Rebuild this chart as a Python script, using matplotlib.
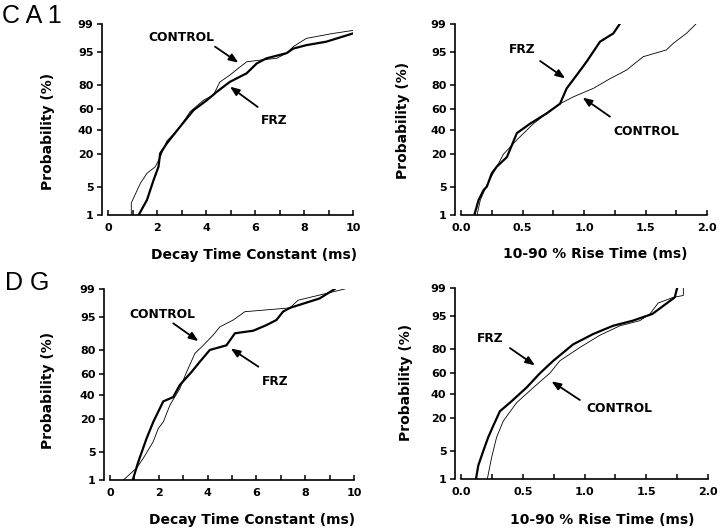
import numpy as np
import matplotlib
matplotlib.use('Agg')
import matplotlib.pyplot as plt
from statistics import NormalDist

plt.rcParams['font.family'] = ['DejaVu Sans']

# ---- data (x value, cumulative probability %) ----
# CA1, decay time constant (ms)
ca1_decay_ctrl_x = [0.95, 0.95, 1.32, 1.59, 1.93, 2.13, 2.40, 2.67, 2.94, 3.35, 3.89, 4.30, 4.57, 4.97, 5.39, 5.66, 6.20, 6.88, 7.29, 7.56, 8.10, 9.19, 10.0]
ca1_decay_ctrl_p = [1.0, 2.1, 6.0, 9.5, 12.5, 18.0, 30.0, 36.0, 43.0, 57.5, 68.0, 72.5, 82.0, 86.0, 90.0, 92.0, 92.6, 93.2, 94.7, 96.2, 97.6, 98.2, 98.5]
ca1_decay_frz_x = [1.25, 1.59, 1.86, 2.06, 2.13, 2.40, 2.94, 3.49, 4.03, 4.44, 4.97, 5.66, 6.07, 6.47, 7.29, 7.56, 8.10, 8.91, 10.0]
ca1_decay_frz_p = [1.0, 2.5, 7.0, 12.5, 20.5, 28.0, 43.0, 59.0, 68.0, 75.0, 82.0, 87.0, 91.4, 93.2, 94.7, 95.8, 96.5, 97.1, 98.2]

# CA1, 10-90 % rise time (ms)
ca1_rise_ctrl_x = [0.13, 0.157, 0.21, 0.29, 0.346, 0.454, 0.589, 0.697, 0.805, 0.914, 1.076, 1.211, 1.346, 1.481, 1.67, 1.724, 1.832, 1.91]
ca1_rise_ctrl_p = [1.0, 2.5, 5.5, 12.5, 20.0, 31.0, 46.0, 56.0, 65.0, 71.0, 77.6, 84.0, 88.6, 93.7, 95.5, 96.8, 98.2, 99.0]
ca1_rise_frz_x = [0.108, 0.143, 0.184, 0.21, 0.25, 0.29, 0.373, 0.454, 0.562, 0.697, 0.805, 0.859, 0.94, 1.02, 1.13, 1.238, 1.29]
ca1_rise_frz_p = [1.0, 2.5, 4.3, 5.1, 9.5, 12.5, 18.0, 37.0, 46.0, 56.0, 65.0, 77.6, 86.0, 92.0, 97.1, 98.2, 99.0]

# DG, decay time constant (ms)
dg_decay_ctrl_x = [0.55, 1.09, 1.36, 1.77, 1.98, 2.18, 2.46, 2.86, 3.14, 3.48, 3.82, 4.23, 4.50, 5.05, 5.53, 7.37, 7.71, 9.62]
dg_decay_ctrl_p = [1.0, 2.1, 3.6, 8.2, 14.3, 18.0, 31.0, 46.0, 62.0, 77.6, 83.0, 88.6, 92.0, 94.2, 96.2, 96.9, 98.0, 99.0]
dg_decay_frz_x = [0.93, 1.16, 1.50, 1.77, 2.18, 2.59, 2.86, 3.34, 3.68, 4.09, 4.77, 5.12, 5.87, 6.41, 6.82, 7.09, 7.37, 8.59, 9.21]
dg_decay_frz_p = [1.0, 3.0, 9.5, 18.0, 34.0, 38.0, 49.5, 62.0, 71.0, 80.0, 83.0, 89.4, 90.5, 92.6, 94.2, 96.2, 96.9, 98.2, 99.0]

# DG, 10-90 % rise time (ms)
dg_rise_ctrl_x = [0.213, 0.248, 0.288, 0.342, 0.45, 0.585, 0.72, 0.80, 0.962, 1.124, 1.286, 1.447, 1.53, 1.596, 1.717, 1.80, 1.80]
dg_rise_ctrl_p = [1.0, 3.6, 9.5, 18.0, 32.0, 46.0, 60.0, 71.0, 81.0, 88.0, 92.0, 93.7, 95.5, 97.5, 98.2, 98.4, 99.0]
dg_rise_frz_x = [0.121, 0.14, 0.18, 0.22, 0.26, 0.315, 0.396, 0.53, 0.64, 0.747, 0.908, 1.07, 1.23, 1.39, 1.55, 1.62, 1.73, 1.75]
dg_rise_frz_p = [1.0, 2.3, 5.0, 9.5, 15.0, 25.0, 32.0, 46.0, 60.0, 71.0, 83.0, 88.6, 92.0, 93.7, 95.5, 96.8, 98.2, 99.0]

prob_ticks = [1, 5, 20, 40, 60, 80, 95, 99]

# probit (normal probability) axis
_nd = NormalDist()
_ppf = np.vectorize(_nd.inv_cdf, otypes=[float])
_cdf = np.vectorize(_nd.cdf, otypes=[float])

def probit_fwd(p):
    p = np.clip(np.asarray(p, dtype=float) / 100.0, 1e-9, 1 - 1e-9)
    return _ppf(p)

def probit_inv(z):
    return _cdf(np.asarray(z, dtype=float)) * 100.0

fig = plt.figure(figsize=(7.2, 5.3), dpi=100)

panels = [
    dict(rect=[0.150, 0.5943, 0.3403, 0.3604], xmax=10, major=np.arange(0, 11, 2), minor=np.arange(1, 10, 2),
         fmt='{:.0f}', xlabel='Decay Time Constant (ms)',
         ctrl=(ca1_decay_ctrl_x, ca1_decay_ctrl_p), frz=(ca1_decay_frz_x, ca1_decay_frz_p),
         xl=(0.596, -0.172), yl=(-0.215, 0.44),
         ctrl_note=((3.0, 97.7), (4.37, 96.2), (5.32, 91.7)),
         frz_note=((6.8, 49.5), (6.11, 62.0), (4.98, 78.8))),
    dict(rect=[0.6403, 0.5943, 0.3417, 0.3604], xmax=2.0, major=np.arange(0, 2.01, 0.5), minor=np.arange(0.25, 2.0, 0.5),
         fmt='{:.1f}', xlabel='10-90 % Rise Time (ms)',
         ctrl=(ca1_rise_ctrl_x, ca1_rise_ctrl_p), frz=(ca1_rise_frz_x, ca1_rise_frz_p),
         xl=(0.547, -0.168), yl=(-0.207, 0.497),
         ctrl_note=((1.508, 38.4), (1.211, 52.8), (0.989, 70.3)),
         frz_note=((0.497, 95.7), (0.643, 92.3), (0.846, 84.2))),
    dict(rect=[0.1528, 0.0943, 0.3389, 0.3604], xmax=10, major=np.arange(0, 11, 2), minor=np.arange(1, 10, 2),
         fmt='{:.0f}', xlabel='Decay Time Constant (ms)',
         ctrl=(dg_decay_ctrl_x, dg_decay_ctrl_p), frz=(dg_decay_frz_x, dg_decay_frz_p),
         xl=(0.582, -0.172), yl=(-0.225, 0.47),
         ctrl_note=((2.16, 95.6), (2.59, 93.2), (3.62, 85.5)),
         frz_note=((6.75, 53.4), (6.08, 66.8), (4.95, 81.0))),
    dict(rect=[0.6403, 0.0962, 0.3431, 0.3604], xmax=2.0, major=np.arange(0, 2.01, 0.5), minor=np.arange(0.25, 2.0, 0.5),
         fmt='{:.1f}', xlabel='10-90 % Rise Time (ms)',
         ctrl=(dg_rise_ctrl_x, dg_rise_ctrl_p), frz=(dg_rise_frz_x, dg_rise_frz_p),
         xl=(0.57, -0.176), yl=(-0.194, 0.508),
         ctrl_note=((1.28, 27.0), (0.962, 34.4), (0.733, 52.1)),
         frz_note=((0.234, 86.3), (0.396, 80.6), (0.598, 67.1))),
]

arrow_style = dict(arrowstyle='-|>,head_length=0.55,head_width=0.22', color='black', lw=1.3, shrinkA=0, shrinkB=0)

for pnl in panels:
    ax = fig.add_axes(pnl['rect'])
    ax.set_yscale('function', functions=(probit_fwd, probit_inv))
    ax.plot(*pnl['ctrl'], color='black', lw=0.6)
    ax.plot(*pnl['frz'], color='black', lw=1.6)
    ax.set_xlim(0, pnl['xmax'])
    ax.set_ylim(1, 99)
    ax.set_yticks(prob_ticks)
    ax.set_yticklabels([str(t) for t in prob_ticks])
    ax.set_yticks([], minor=True)
    ax.set_xticks(pnl['major'])
    ax.set_xticklabels([pnl['fmt'].format(v) for v in pnl['major']])
    ax.set_xticks(pnl['minor'], minor=True)

    for s in ('top', 'right'):
        ax.spines[s].set_visible(False)
    ax.spines['left'].set_position(('outward', 4))
    ax.spines['left'].set_linewidth(1.2)
    ax.spines['bottom'].set_linewidth(1.2)

    ax.tick_params(axis='y', direction='out', length=3.5, width=1.1, pad=3, labelsize=8)
    ax.tick_params(axis='x', which='both', direction='in', length=3.5, width=1.1, pad=6, labelsize=8)
    for lab in ax.get_xticklabels() + ax.get_yticklabels():
        lab.set_fontweight('bold')

    ax.set_xlabel(pnl['xlabel'], fontsize=10, fontweight='bold', va='top')
    ax.xaxis.set_label_coords(*pnl['xl'])
    ax.set_ylabel('Probability (%)', fontsize=10, fontweight='bold')
    ax.yaxis.set_label_coords(*pnl['yl'])

    for name, key in (('CONTROL', 'ctrl_note'), ('FRZ', 'frz_note')):
        txt, tail, head = pnl[key]
        ax.text(*txt, name, ha='center', va='center', fontsize=8.8, fontweight='bold')
        ax.annotate('', xy=head, xytext=tail, arrowprops=arrow_style)

fig.text(0.003, 0.957, 'C A 1', fontsize=18, ha='left', va='baseline', family='Liberation Sans')
fig.text(0.007, 0.453, 'D G', fontsize=18, ha='left', va='baseline', family='Liberation Sans')

fig.savefig('out.png', dpi=100)
